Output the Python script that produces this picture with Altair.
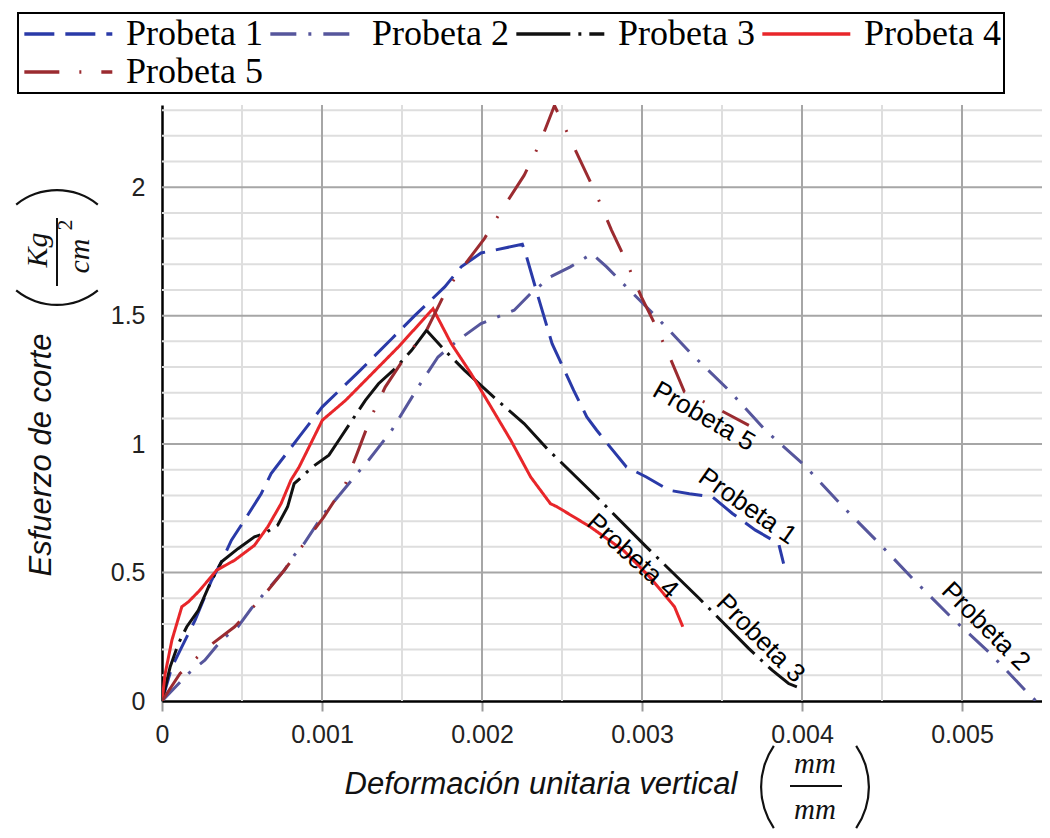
import altair as alt
import pandas as pd

# ---------------- data ----------------
series_names = ["Probeta 1", "Probeta 2", "Probeta 3", "Probeta 4", "Probeta 5"]
series_colors = ["#2a3aa8", "#56569c", "#111111", "#e8262a", "#9b2b30"]
series_dashes = [[30, 11], [26, 12, 3, 12], [54, 8, 3, 8], [1, 0], [35, 20, 2, 20]]

p1_x = [0, 0.000062, 0.000124, 0.000207, 0.00031, 0.000372, 0.000434, 0.000516, 0.00062, 0.000682,
        0.000857, 0.001002, 0.001229, 0.001436, 0.001581, 0.001767, 0.00187, 0.001994, 0.002252, 0.002273,
        0.002345, 0.002438, 0.002573, 0.002655, 0.002717, 0.0028, 0.002903, 0.003027, 0.003172, 0.003296,
        0.003441, 0.003565, 0.003709, 0.003854, 0.003885]
p1_y = [0, 0.133, 0.211, 0.315, 0.47, 0.542, 0.626, 0.704, 0.807, 0.885,
        1.028, 1.145, 1.281, 1.41, 1.501, 1.612, 1.69, 1.744, 1.778, 1.741,
        1.586, 1.391, 1.209, 1.106, 1.054, 0.989, 0.911, 0.872, 0.82, 0.807,
        0.794, 0.73, 0.665, 0.613, 0.535]

p2_x = [0, 0.000165, 0.000268, 0.000372, 0.000475, 0.000558, 0.000764, 0.000826, 0.000888, 0.001012,
        0.001064, 0.001219, 0.001291, 0.001436, 0.001601, 0.001725, 0.001849, 0.001994, 0.002201, 0.002304,
        0.002428, 0.002552, 0.002686, 0.002779, 0.002862, 0.002986, 0.00311, 0.003317, 0.003544, 0.003771,
        0.004019, 0.004247, 0.004474, 0.004701, 0.004929, 0.005177, 0.005404, 0.00556]
p2_y = [0, 0.107, 0.159, 0.237, 0.289, 0.36, 0.509, 0.567, 0.613, 0.73,
        0.768, 0.885, 0.937, 1.054, 1.222, 1.339, 1.404, 1.469, 1.521, 1.586,
        1.651, 1.69, 1.741, 1.69, 1.637, 1.56, 1.482, 1.346, 1.209, 1.054,
        0.915, 0.762, 0.619, 0.47, 0.328, 0.185, 0.036, -0.06]

p3_x = [0, 0.000051, 0.000103, 0.000155, 0.000227, 0.0003, 0.000372, 0.000475, 0.000578, 0.00064,
        0.000723, 0.000785, 0.000826, 0.000878, 0.00094, 0.001043, 0.001105, 0.001188, 0.001271, 0.001353,
        0.001457, 0.00156, 0.001653, 0.001767, 0.001891, 0.002097, 0.002263, 0.002407, 0.002717, 0.003027,
        0.003358, 0.003668, 0.003813, 0.003916, 0.003968]
p3_y = [0, 0.133, 0.224, 0.289, 0.353, 0.457, 0.542, 0.593, 0.639, 0.652,
        0.684, 0.756, 0.846, 0.875, 0.911, 0.957, 1.015, 1.093, 1.17, 1.235,
        1.294, 1.365, 1.443, 1.365, 1.287, 1.17, 1.08, 0.982, 0.794, 0.6,
        0.399, 0.204, 0.12, 0.068, 0.055]

p4_x = [0, 0.00002, 0.000062, 0.000124, 0.000165, 0.000227, 0.000289, 0.000341, 0.000454, 0.000578,
        0.000661, 0.000744, 0.000806, 0.000857, 0.00094, 0.001002, 0.001147, 0.001271, 0.001477, 0.001694,
        0.001808, 0.001932, 0.002056, 0.00218, 0.002304, 0.002428, 0.002469, 0.002676, 0.002883, 0.003048,
        0.003203, 0.003255]
p4_y = [0, 0.107, 0.237, 0.367, 0.386, 0.425, 0.47, 0.509, 0.548, 0.606,
        0.678, 0.768, 0.86, 0.911, 1.015, 1.093, 1.17, 1.248, 1.378, 1.527,
        1.391, 1.274, 1.145, 1.015, 0.872, 0.768, 0.756, 0.678, 0.587, 0.483,
        0.367, 0.289]

p5_x = [0, 0.000113, 0.000289, 0.000454, 0.00062, 0.000764, 0.000888, 0.001012, 0.001147, 0.001219,
        0.001302, 0.001395, 0.001519, 0.001643, 0.001767, 0.001849, 0.002015, 0.002128, 0.002263, 0.002356,
        0.002453, 0.002521, 0.002624, 0.002717, 0.00281, 0.002903, 0.002996, 0.003089, 0.003182, 0.003265,
        0.003472, 0.003668]
p5_y = [0, 0.107, 0.211, 0.289, 0.399, 0.509, 0.613, 0.717, 0.846, 0.963,
        1.099, 1.222, 1.339, 1.43, 1.586, 1.663, 1.8, 1.916, 2.046, 2.163,
        2.318, 2.228, 2.091, 1.968, 1.832, 1.709, 1.573, 1.456, 1.326, 1.203,
        1.138, 1.073]

x_ticks = [0, 0.001, 0.002, 0.003, 0.004, 0.005]
y_ticks = [0, 0.5, 1, 1.5, 2]
x_major_grid = [0.001, 0.002, 0.003, 0.004, 0.005]
x_minor_grid = [0.0005, 0.0015, 0.0025, 0.0035, 0.0045]
y_major_grid = [0.5, 1.0, 1.5, 2.0]
y_minor_grid = [0.1, 0.2, 0.3, 0.4, 0.6, 0.7, 0.8, 0.9, 1.1, 1.2, 1.3, 1.4,
                1.6, 1.7, 1.8, 1.9, 2.1, 2.2, 2.3]

label_text = ["Probeta 5", "Probeta 1", "Probeta 4", "Probeta 3", "Probeta 2"]
label_x = [0.003387, 0.00366, 0.00294, 0.00374, 0.005148]
label_y = [1.107, 0.757, 0.563, 0.243, 0.29]
label_angle = [30, 35, 42, 45, 45]

# ---------------- tables ----------------
all_x = [p1_x, p2_x, p3_x, p4_x, p5_x]
all_y = [p1_y, p2_y, p3_y, p4_y, p5_y]
rows = []
for name, xs, ys in zip(series_names, all_x, all_y):
    for i, (xv, yv) in enumerate(zip(xs, ys)):
        rows.append({"series": name, "strain": xv, "stress": yv, "idx": i})
df = pd.DataFrame(rows)
labels_df = pd.DataFrame({"t": label_text, "strain": label_x, "stress": label_y, "ang": label_angle})

W, H = 880, 596
x_scale = alt.Scale(domain=[0, 0.0055], nice=False, zero=False)
y_scale = alt.Scale(domain=[0, 2.32], nice=False, zero=False)

x_axis = alt.Axis(values=x_ticks, format=".3~f", grid=False, domainColor="black", domainWidth=2.5,
                  ticks=True, tickColor="#9a9a9a", tickWidth=2, tickSize=10,
                  labelFont="Liberation Sans", labelFontSize=25, labelColor="#222222",
                  labelPadding=11, labelOverlap=False, labelFlush=False, title=None)
y_axis = alt.Axis(values=y_ticks, format="~g", grid=False, domainColor="black", domainWidth=2.5,
                  ticks=False, labelFont="Liberation Sans", labelFontSize=25, labelColor="#222222",
                  labelPadding=17, labelOverlap=False, labelFlush=False, title=None)

X = alt.X("strain:Q", scale=x_scale, axis=x_axis)
Y = alt.Y("stress:Q", scale=y_scale, axis=y_axis)

gx_minor = alt.Chart(pd.DataFrame({"strain": x_minor_grid})).mark_rule(
    color="#dedede", strokeWidth=2).encode(x=X)
gy_minor = alt.Chart(pd.DataFrame({"stress": y_minor_grid})).mark_rule(
    color="#dedede", strokeWidth=2).encode(y=Y)
gx_major = alt.Chart(pd.DataFrame({"strain": x_major_grid})).mark_rule(
    color="#a6a6a6", strokeWidth=2).encode(x=X)
gy_major = alt.Chart(pd.DataFrame({"stress": y_major_grid})).mark_rule(
    color="#a6a6a6", strokeWidth=2).encode(y=Y)

# long horizontal stroke symbol: unit = sqrt(symbolSize)/2 ~ 14.7 px -> line of ~88 px
legend = alt.Legend(title=None, orient="none", legendX=-144, legendY=-92, columns=4,
                    direction="horizontal",
                    symbolType="M-1,0H5", symbolSize=860, symbolStrokeWidth=3.5,
                    labelFont="Liberation Serif", labelFontSize=36, labelColor="black",
                    labelOffset=69, labelLimit=400, columnPadding=0, rowPadding=2,
                    padding=3, strokeColor="black")

lines = alt.Chart(df).mark_line(strokeWidth=3, clip=True).encode(
    x=X, y=Y,
    color=alt.Color("series:N", scale=alt.Scale(domain=series_names, range=series_colors), legend=legend),
    strokeDash=alt.StrokeDash("series:N", scale=alt.Scale(domain=series_names, range=series_dashes), legend=legend),
    order="idx:Q",
)

line_labels = alt.Chart(labels_df).mark_text(
    font="Liberation Sans", fontSize=26, color="black", align="center", baseline="middle"
).encode(x=X, y=Y, text="t:N", angle=alt.Angle("ang:Q", scale=None))

one = pd.DataFrame({"k": [0]})


def txt(s, x, y, size=31, font="Liberation Sans", angle=0, style="italic"):
    return alt.Chart(one).mark_text(
        text=s, font=font, fontSize=size, fontStyle=style, color="#111111",
        align="center", baseline="middle", angle=angle
    ).encode(x=alt.value(x), y=alt.value(y))


def arc(cx, cy, r, t0, t1):
    return alt.Chart(one).mark_arc(
        radius=r, radius2=r - 2.2, theta=t0, theta2=t1, color="#111111"
    ).encode(x=alt.value(cx), y=alt.value(cy))


def bar(x1, y1, x2, y2):
    return alt.Chart(one).mark_rule(color="#111111", strokeWidth=2).encode(
        x=alt.value(x1), y=alt.value(y1), x2=alt.value(x2), y2=alt.value(y2))


titles = [
    # x axis title
    txt("Deformación unitaria vertical", 379, 680),
    txt("mm", 653, 659, size=29, font="Liberation Serif"),
    txt("mm", 653, 705, size=29, font="Liberation Serif"),
    bar(628, 681, 680, 681),
    arc(672, 682, 74, 4.1124, 5.3124),
    arc(634, 682, 74, 0.9708, 2.1708),
    # y axis title
    txt("Esfuerzo de corte", -120, 350, angle=270),
    txt("Kg", -124, 145, size=30, font="Liberation Serif", angle=270),
    txt("cm", -82, 151, size=30, font="Liberation Serif", angle=270),
    txt("2", -97, 120, size=22, font="Liberation Serif", angle=270, style="normal"),
    bar(-105, 113, -105, 181),
    arc(-105, 135, 66, 2.4616, 3.8216),
    arc(-105, 150, 66, 5.6032, 6.9632),
]

chart = alt.layer(
    gx_minor, gy_minor, gx_major, gy_major, lines, line_labels, *titles
).properties(
    width=W, height=H,
    padding={"left": 154, "top": 97, "right": 0, "bottom": 129},
    autosize=alt.AutoSizeParams(type="none"),
    background="white",
).configure_view(stroke=None).configure_legend(strokeWidth=2)

chart.save("out.html", embed_options={"renderer": "svg", "actions": False})
